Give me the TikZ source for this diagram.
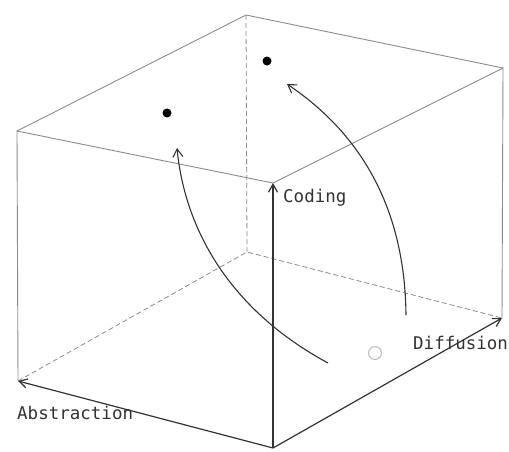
\documentclass[tikz,border=0pt]{standalone}
\usepackage{fontspec}
\setmonofont{DejaVu Sans Mono}
\usepackage{xcolor}
\definecolor{cubegray}{HTML}{8C8C8C}
\definecolor{axisdark}{HTML}{333333}
\definecolor{ringgray}{HTML}{BBBBBB}
\usetikzlibrary{arrows.meta}
\tikzset{
  cubeedge/.style={draw=cubegray, line width=0.9pt},
  cubehidden/.style={draw=cubegray, line width=0.8pt,
    dash pattern=on 5pt off 3pt},
  axisarr/.style={draw=axisdark, line width=1.2pt,
    -{Straight Barb[length=8pt,width=9pt]}},
  pusharr/.style={draw=axisdark, line width=1.1pt,
    -{Straight Barb[length=8pt,width=10pt]}},
  axislabel/.style={anchor=west, inner sep=0pt, text=axisdark,
    font=\ttfamily\fontsize{17.5}{18}\selectfont},
  fulldot/.style={circle, fill=black, minimum size=9pt, inner sep=0pt},
  emptydot/.style={circle, draw=ringgray, line width=1pt,
    minimum size=13pt, inner sep=0pt}
}
\begin{document}
\begin{tikzpicture}[x=1pt, y=-1pt]
  \clip (0,0) rectangle (509,451);
  \fill[white] (0,0) rectangle (509,451);

  % corners of the cube
  \coordinate (o)  at (273,448);
  \coordinate (l)  at (18,381);
  \coordinate (r)  at (502,318);
  \coordinate (b)  at (247,252);
  \coordinate (ot) at (273,183);
  \coordinate (lt) at (17,131);
  \coordinate (rt) at (503,68);
  \coordinate (bt) at (246,15);

  % hidden edges
  \draw[cubehidden] (bt) -- (b);
  \draw[cubehidden] (l) -- (b) -- (r);

  % visible edges
  \draw[cubeedge] (l) -- (lt) -- (ot) -- (rt) -- (r);
  \draw[cubeedge] (lt) -- (bt) -- (rt);

  % axes
  \draw[axisarr] (o) -- (ot);
  \draw[axisarr] (o) -- (l);
  \draw[axisarr] (o) -- (r);

  \node[axislabel] (coding) at (283,198) {Coding};
  \node[axislabel] (abstr)  at (17,413)  {Abstraction};
  \node[axislabel] (diff)   at (413,343) {Diffusion};

  % points
  \node[fulldot]  (p1) at (167,113) {};
  \node[fulldot]  (p2) at (267,61)  {};
  \node[emptydot] (p0) at (375,353) {};

  \coordinate (s1) at (328,363);
  \coordinate (e1) at (177,148);
  \coordinate (s2) at (406,315);
  \coordinate (e2) at (287,84);
  \draw[pusharr] (s1) .. controls (230,310) and (185,230) .. (e1);
  \draw[pusharr] (s2) .. controls (405,220) and (370,140) .. (e2);
\end{tikzpicture}
\end{document}
